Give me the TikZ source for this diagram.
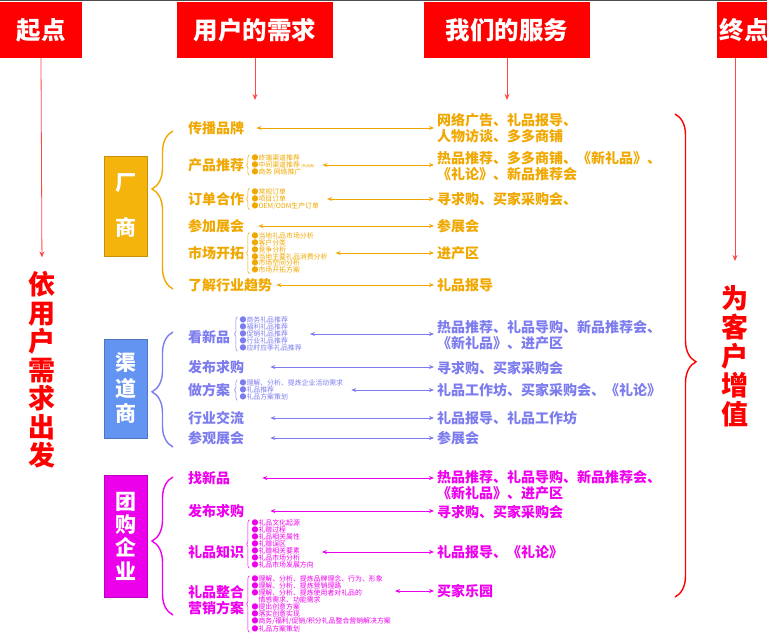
\documentclass[tikz,border=0pt]{standalone}
\usepackage{fontspec}
\setmainfont{Noto Sans CJK SC}
\usetikzlibrary{arrows.meta,positioning,decorations.pathreplacing}

\definecolor{hdred}{HTML}{FF0000}
\definecolor{lnred}{HTML}{FF4848}
\definecolor{csorg}{HTML}{F0A800}
\definecolor{csbox}{HTML}{F5B40C}
\definecolor{qdblue}{HTML}{7C7CEE}
\definecolor{qdbox}{HTML}{6494F2}
\definecolor{tgpink}{HTML}{EE00EE}
\definecolor{tgbox}{HTML}{EC00EC}

\newcommand{\setfs}[2]{\fontsize{#1}{#2}\selectfont}

\begin{document}
\begin{tikzpicture}[
  x=1pt, y=-1pt,
  head/.style={fill=hdred, text=white, font=\bfseries\setfs{24.5}{25}, minimum height=56pt, inner sep=0},
  catbox/.style={draw=#1!80!black, fill=#1, text=white, align=center, minimum width=43pt, inner sep=0, line width=0.5pt},
  item/.style={anchor=west, align=left, font=\bfseries\setfs{14}{16}, inner sep=0},
  sub/.style={anchor=west, align=left, font=\setfs{6.9}{6.9}, inner sep=0},
  svc/.style={anchor=west, align=left, font=\bfseries\setfs{14}{16}, inner sep=0},
  vtext/.style={text=hdred, align=center, inner sep=0},
  link/.style={{Stealth[length=5pt,width=4pt]}-{Stealth[length=5pt,width=4pt]}, line width=0.7pt, shorten >=3pt},
  bigbrace/.style={decorate, decoration={brace, amplitude=21pt, aspect=#1}, line width=1.4pt},
  smbrace/.style={decorate, decoration={brace, amplitude=3pt}, line width=0.5pt},
  vline/.style={-{Stealth[length=6pt,width=5pt]}, draw=lnred, line width=0.8pt}
]
\useasboundingbox (0,0) rectangle (767,634);
\fill[black!70] (0,0) rectangle (767,1.5);

% header
\node[head, minimum width=82pt] (qd) at (41,30) {起点};
\node[head, minimum width=156pt] (xq) at (255,30) {用户的需求};
\node[head, minimum width=166pt] (fw) at (507,30) {我们的服务};
\node[head, minimum width=54pt] (zd) at (744,30) {终点};

% start / end texts
\node[vtext, font=\bfseries\setfs{27}{28.5}] (yh) at (42,370) {依\\用\\户\\需\\求\\出\\发};
\node[vtext, font=\bfseries\setfs{27}{29}] (wk) at (735,356) {为\\客\\户\\增\\值};
\coordinate (xqe) at (255,100);
\coordinate (fwe) at (507,100);

\draw[vline, shorten >=14pt] (qd.south) -- (yh.north);
\draw[vline] (xq.south) -- (xqe);
\draw[vline] (fw.south) -- (fwe);
\draw[vline, shorten >=24pt] (zd.south -| wk.north) -- (wk.north);

% categories
\node[catbox=csbox, minimum height=100pt, font=\bfseries\setfs{21}{45}] (cs) at (125.5,206) {厂\\商};
\node[catbox=qdbox, minimum height=99pt, font=\bfseries\setfs{21}{25.5}] (qds) at (125.5,388.5) {渠\\道\\商};
\node[catbox=tgbox, minimum height=122pt, font=\bfseries\setfs{21}{23.3}] (tg) at (125.5,536) {团\\购\\企\\业};

\draw[bigbrace=0.633, csorg] (173,289) -- (173,131);
\draw[bigbrace=0.48, qdblue] (173,447) -- (173,332);
\draw[bigbrace=0.536, tgpink] (173,615) -- (173,477);
\draw[bigbrace=0.513, hdred] (675,114) -- (675,597);

% 厂商
\begin{scope}[text=csorg, draw=csorg, csorg]
\node[item] (cbpp) at (188,128) {传播品牌};
\node[item] (cptj) at (188,165) {产品推荐};
\node[sub, right=7pt of cptj] (cptj-s) {●终端渠道推荐\\●中间渠道推荐 {\setfs{3.5}{4}(有品牌)}\\●商务 网络推广};
\node[item] (cddh) at (188,199) {订单合作};
\node[sub, right=7pt of cddh] (cddh-s) {●常规订单\\●项目订单\\●OEM/ODM生产订单};
\node[item] (ccjz) at (188,226) {参加展会};
\node[item] (cscz) at (188,253) {市场开拓};
\node[sub, right=7pt of cscz] (cscz-s) {●当地礼品市场分析\\●客户分类\\●竞争分析\\●当地主要礼品消费分析\\●市场空间分析\\●市场开拓方案};
\node[item] (chy) at (188,285) {了解行业趋势};

\node[svc] (cbpp-r) at (437,128) {网络广告、礼品报导、\\人物访谈、多多商铺};
\node[svc] (cptj-r) at (437,166) {热品推荐、多多商铺、《新礼品》、\\《礼论》、新品推荐会};
\node[svc] (cddh-r) at (437,199) {寻求购、买家采购会、};
\node[svc] (ccjz-r) at (437,226) {参展会};
\node[svc] (cscz-r) at (437,253) {进产区};
\node[svc] (chy-r) at (437,285) {礼品报导};

\draw[smbrace] ([xshift=-2pt]cptj-s.south west) -- ([xshift=-2pt]cptj-s.north west);
\draw[smbrace] ([xshift=-2pt]cddh-s.south west) -- ([xshift=-2pt]cddh-s.north west);
\draw[smbrace] ([xshift=-2pt]cscz-s.south west) -- ([xshift=-2pt]cscz-s.north west);

\draw[link, shorten <=12pt] (cbpp.east) -- (cbpp.east -| cbpp-r.west);
\draw[link, shorten <=8pt] (cptj-s.east) -- (cptj-s.east -| cptj-r.west);
\draw[link, shorten <=8pt] (cddh-s.east) -- (cddh-s.east -| cddh-r.west);
\draw[link, shorten <=14pt] (ccjz.east) -- (ccjz.east -| ccjz-r.west);
\draw[link, shorten <=8pt] (cscz-s.east) -- (cscz-s.east -| cscz-r.west);
\draw[link, shorten <=4pt] (chy.east) -- (chy.east -| chy-r.west);
\end{scope}

% 渠道商
\begin{scope}[text=qdblue, draw=qdblue, qdblue]
\node[item] (qkxp) at (188,337) {看新品};
\node[sub, right=9pt of qkxp, yshift=3pt] (qkxp-s) {●商务礼品推荐\\●福利礼品推荐\\●促销礼品推荐\\●行业礼品推荐\\●应时应季礼品推荐};
\node[item] (qfbqg) at (188,367) {发布求购};
\node[item] (qzfa) at (188,390) {做方案};
\node[sub, right=9pt of qzfa] (qzfa-s) {●理解、分析、提炼企业活动需求\\●礼品推荐\\●礼品方案策划};
\node[item] (qhyjl) at (188,418) {行业交流};
\node[item] (qcgzh) at (188,438) {参观展会};

\node[svc] (qkxp-r) at (437,335) {热品推荐、礼品导购、新品推荐会、\\《新礼品》、进产区};
\node[svc] (qfbqg-r) at (437,368) {寻求购、买家采购会};
\node[svc] (qzfa-r) at (437,390) {礼品工作坊、买家采购会、《礼论》};
\node[svc] (qhyjl-r) at (437,418) {礼品报导、礼品工作坊};
\node[svc] (qcgzh-r) at (437,438) {参展会};

\draw[smbrace] ([xshift=-2pt]qkxp-s.south west) -- ([xshift=-2pt]qkxp-s.north west);
\draw[smbrace] ([xshift=-2pt]qzfa-s.south west) -- ([xshift=-2pt]qzfa-s.north west);

\draw[link, shorten <=8pt] (qkxp-s.east) -- (qkxp-s.east -| qkxp-r.west);
\draw[link, shorten <=26pt] (qfbqg.east) -- (qfbqg.east -| qfbqg-r.west);
\draw[link, shorten <=8pt] (qzfa-s.east) -- (qzfa-s.east -| qzfa-r.west);
\draw[link, shorten <=26pt] (qhyjl.east) -- (qhyjl.east -| qhyjl-r.west);
\draw[link, shorten <=26pt] (qcgzh.east) -- (qcgzh.east -| qcgzh-r.west);
\end{scope}

% 团购企业
\begin{scope}[text=tgpink, draw=tgpink, tgpink]
\node[item] (tzxp) at (188,478) {找新品};
\node[item] (tfbqg) at (188,511) {发布求购};
\node[item] (tlpzs) at (188,552) {礼品知识};
\node[sub, right=7pt of tlpzs, yshift=8pt] (tlpzs-s) {●礼品文化起源\\●礼赠过程\\●礼品相关属性\\●礼赠误区\\●礼赠相关要素\\●礼品市场分析\\●礼品市场发展方向};
\node[item] (tzh) at (188,600) {礼品整合\\营销方案};
\node[sub, right=7pt of tzh, yshift=-4pt] (tzh-s) {●理解、分析、提炼品牌理念、行为、形象\\●理解、分析、提炼营销理路\\●理解、分析、提炼使用者对礼品的\\\hspace*{1em}情感需求、功能需求\\●提出创意方案\\●落实创意实现\\●商务/福利/促销/积分礼品整合营销解决方案\\●礼品方案策划};

\node[svc] (tzxp-r) at (437,485) {热品推荐、礼品导购、新品推荐会、\\《新礼品》、进产区};
\node[svc] (tfbqg-r) at (437,512) {寻求购、买家采购会};
\node[svc] (tlpzs-r) at (437,552) {礼品报导、《礼论》};
\node[svc] (tzh-r) at (437,591) {买家乐园};

\draw[smbrace] ([xshift=-2pt]tlpzs-s.south west) -- ([xshift=-2pt]tlpzs-s.north west);
\draw[smbrace] ([xshift=-2pt]tzh-s.south west) -- ([xshift=-2pt]tzh-s.north west);

\draw[link, shorten <=32pt] (tzxp.east) -- (tzxp.east -| tzxp-r.west);
\draw[link, shorten <=26pt] (tfbqg.east) -- (tfbqg.east -| tfbqg-r.west);
\draw[link, shorten <=8pt] (tlpzs-s.east |- tlpzs.east) -- (tlpzs.east -| tlpzs-r.west);
\draw[link, shorten <=4pt] (tzh-s.east |- tzh-r.west) -- (tzh-r.west);
\end{scope}

\end{tikzpicture}
\end{document}
